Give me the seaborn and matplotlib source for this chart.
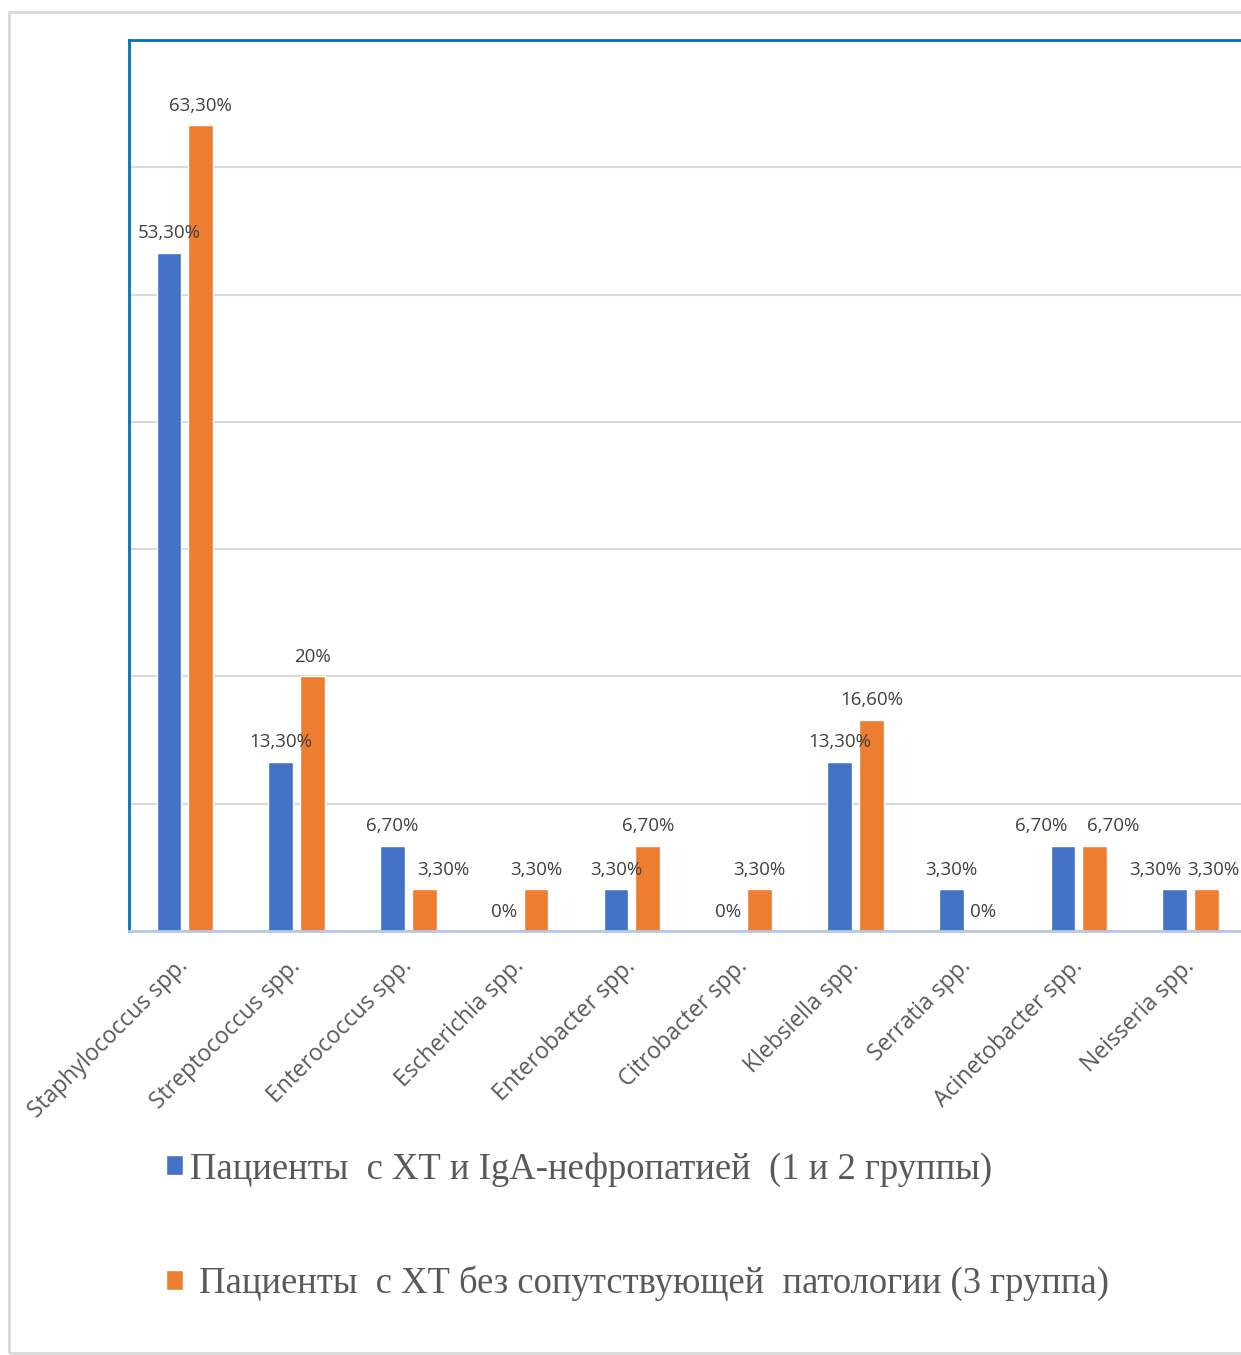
import matplotlib
matplotlib.use("Agg")
import matplotlib.pyplot as plt
from matplotlib.patches import Rectangle
import seaborn as sns
import pandas as pd

# Genera isolated, with shares (%) for the two patient groups
genera = [
    "Staphylococcus spp.", "Streptococcus spp.", "Enterococcus spp.",
    "Escherichia spp.", "Enterobacter spp.", "Citrobacter spp.",
    "Klebsiella spp.", "Serratia spp.", "Acinetobacter spp.", "Neisseria spp.",
]
group_iga = [53.3, 13.3, 6.7, 0, 3.3, 0, 13.3, 3.3, 6.7, 3.3]
group_ht = [63.3, 20, 3.3, 3.3, 6.7, 3.3, 16.6, 0, 6.7, 3.3]
series_names = [
    "Пациенты  с ХТ и IgA-нефропатией  (1 и 2 группы)",
    " Пациенты  с ХТ без сопутствующей  патологии (3 группа)",
]
y_ticks = [0, 10, 20, 30, 40, 50, 60, 70]

df = pd.DataFrame({
    "genus": genera * 2,
    "value": group_iga + group_ht,
    "series": [series_names[0]] * len(genera) + [series_names[1]] * len(genera),
})

sns.set_theme(style="white")
plt.rcParams["font.family"] = ["Open Sans", "DejaVu Sans"]

W, H = 1241, 1355
fig = plt.figure(figsize=(W / 100, H / 100), dpi=100)
ax = fig.add_axes([129 / W, 1 - 931 / H, 1117.5 / W, 891 / H])

sns.barplot(
    data=df, x="genus", y="value", hue="series", order=genera,
    hue_order=series_names, palette=["#4472c4", "#ed7d31"],
    width=0.57, gap=0.22, saturation=1, legend=True, ax=ax,
)

ax.set_xlim(-0.5, len(genera) - 0.5)
ax.set_ylim(y_ticks[0], y_ticks[-1])
ax.set_yticks(y_ticks)
ax.set_yticklabels([])
ax.tick_params(axis="y", length=0)
ax.grid(axis="y", color="#d9d9d9", linewidth=1.5)
ax.set_axisbelow(True)
ax.set_xlabel("")
ax.set_ylabel("")

for side in ("left", "top"):
    ax.spines[side].set_color("#0070c0")
    ax.spines[side].set_linewidth(2)
ax.spines["right"].set_visible(False)
ax.spines["bottom"].set_color("#b4c7e7")
ax.spines["bottom"].set_linewidth(2)


def fmt(v):
    if float(v).is_integer():
        return f"{int(v)}%"
    return f"{v:.2f}".replace(".", ",") + "%"


# Sideways nudges (pixels) for value labels that would otherwise collide
label_nudge = {(1, 2): 19, (0, 8): -22, (1, 8): 18, (0, 9): -19, (1, 9): 7}
PAD = 7.5
for s, (cont, vals) in enumerate(zip(ax.containers, [group_iga, group_ht])):
    anns = ax.bar_label(cont, labels=[fmt(v) for v in vals], padding=PAD,
                        fontsize=13.5, color="#404040")
    for i, ann in enumerate(anns):
        dx = label_nudge.get((s, i), 0)
        if dx:
            ann.xyann = (dx * 72 / 100, PAD)

ax.tick_params(axis="x", length=0, pad=23)
ax.set_xticks(range(len(genera)))
ax.set_xticklabels(genera, rotation=45, ha="right", va="center",
                   rotation_mode="anchor", fontsize=16.5, color="#595959")
for lbl in ax.get_xticklabels():
    lbl.set_x(lbl.get_position()[0])

handles, labels = ax.get_legend_handles_labels()
ax.get_legend().remove()
leg = fig.legend(
    handles, labels, loc="upper left",
    bbox_to_anchor=(166 / W, 1 - 1152 / H), frameon=False,
    prop={"family": "Liberation Serif", "size": 26.4},
    handlelength=0.46, handleheight=0.46, handletextpad=0.2,
    labelspacing=2.14, borderpad=0, borderaxespad=0,
)
for t in leg.get_texts():
    t.set_color("#595959")

# Outer chart-area border
fig.patches.append(Rectangle((9 / W, 1 - 1353 / H), 1.2, (1353 - 12) / H,
                             transform=fig.transFigure, fill=False,
                             edgecolor="#d9d9d9", linewidth=2))

fig.savefig("out.png", dpi=100)
